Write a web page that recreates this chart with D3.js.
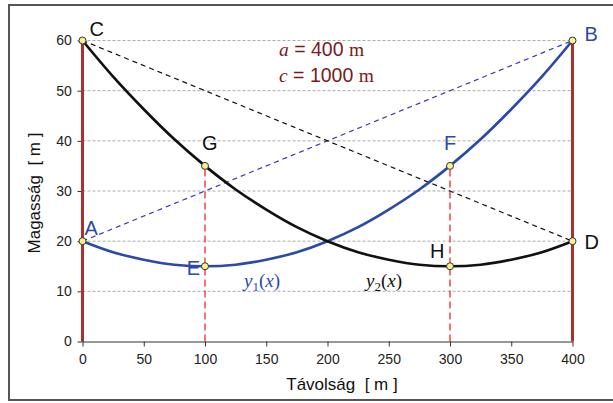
<!DOCTYPE html>
<html>
<head>
<meta charset="utf-8">
<script src="https://cdn.jsdelivr.net/npm/d3@7"></script>
<style>
  body { margin: 0; background: #fff; }
</style>
</head>
<body>
<svg id="chart" width="613" height="403" font-family="Liberation Sans, Arial, sans-serif"></svg>
<script>
// values
var xs = [0, 25, 50, 75, 100, 125, 150, 175, 200, 225, 250, 275, 300, 325, 350, 375, 400];
var y1Values = [20, 17.8, 16.3, 15.3, 15, 15.3, 16.3, 17.8, 20, 22.8, 26.3, 30.3, 35, 40.3, 46.3, 52.8, 60];
var y2Values = [60, 52.8, 46.3, 40.3, 35, 30.3, 26.3, 22.8, 20, 17.8, 16.3, 15.3, 15, 15.3, 16.3, 17.8, 20];
var xTicks = [0, 50, 100, 150, 200, 250, 300, 350, 400];
var yTicks = [0, 10, 20, 30, 40, 50, 60];
var pointNames = ["A", "B", "C", "D", "E", "F", "G", "H"];
var pointX = [0, 400, 0, 400, 100, 300, 100, 300];
var pointY = [20, 60, 60, 20, 15, 35, 35, 15];

var svg = d3.select("#chart");
var serif = "Liberation Serif, Times New Roman, serif";

// outer frame
svg.append("rect")
    .attr("x", 9).attr("y", 5)
    .attr("width", 620).attr("height", 395)
    .attr("fill", "none")
    .attr("stroke", "#555")
    .attr("stroke-width", 2);

var x = d3.scaleLinear().domain([0, 400]).range([82.5, 572.5]);
var y = d3.scaleLinear().domain([0, 60]).range([341.5, 40.5]);

// gridlines
svg.append("g").selectAll("line")
    .data(yTicks.filter(function(d) { return d > 0; }))
    .enter().append("line")
    .attr("x1", x(0)).attr("x2", x(400))
    .attr("y1", function(d) { return y(d); })
    .attr("y2", function(d) { return y(d); })
    .attr("stroke", "#aaa")
    .attr("stroke-width", 1)
    .attr("stroke-dasharray", "3,2");

// axes
var xAxis = svg.append("g")
    .attr("transform", "translate(0," + y(0) + ")")
    .call(d3.axisBottom(x).tickValues(xTicks).tickSize(5).tickSizeOuter(0));
var yAxis = svg.append("g")
    .attr("transform", "translate(" + x(0) + ",0)")
    .call(d3.axisLeft(y).tickValues(yTicks).tickSize(5).tickSizeOuter(0));
[xAxis, yAxis].forEach(function(a) {
  a.attr("font-family", null).attr("font-size", null);
  a.select(".domain").attr("stroke", "#333").attr("stroke-width", 1.2);
  a.selectAll(".tick line").attr("stroke", "#333");
  a.selectAll(".tick text")
      .attr("font-size", 14)
      .attr("fill", "#222");
});
xAxis.selectAll(".tick text").attr("dy", "1.05em");
yAxis.selectAll(".tick text").attr("dx", "-0.2em");

// axis titles
svg.append("text")
    .attr("x", 342).attr("y", 390)
    .attr("text-anchor", "middle")
    .attr("font-size", 17)
    .attr("fill", "#111")
    .attr("xml:space", "preserve")
    .text("Távolság  [ m ]");
svg.append("text")
    .attr("transform", "translate(40,193) rotate(-90)")
    .attr("text-anchor", "middle")
    .attr("font-size", 17)
    .attr("fill", "#111")
    .attr("xml:space", "preserve")
    .text("Magasság  [ m ]");

// dashed chords
function chord(i, j, color) {
  svg.append("line")
      .attr("x1", x(pointX[i])).attr("y1", y(pointY[i]))
      .attr("x2", x(pointX[j])).attr("y2", y(pointY[j]))
      .attr("stroke", color)
      .attr("stroke-width", 1.2)
      .attr("stroke-dasharray", "5,4");
}
chord(0, 1, "#3a3ab0");
chord(2, 3, "#111");

// red dashed verticals through E-G and H-F
[6, 5].forEach(function(i) {
  svg.append("line")
      .attr("x1", x(pointX[i])).attr("x2", x(pointX[i]))
      .attr("y1", y(0)).attr("y2", y(pointY[i]))
      .attr("stroke", "#ee2a2a")
      .attr("stroke-width", 1.3)
      .attr("stroke-dasharray", "7,4");
});

// poles
[0, 400].forEach(function(v) {
  svg.append("line")
      .attr("x1", x(v)).attr("x2", x(v))
      .attr("y1", y(0)).attr("y2", y(60))
      .attr("stroke", "#a83232")
      .attr("stroke-width", 3);
});

// curves
var line = d3.line()
    .x(function(d) { return x(d[0]); })
    .y(function(d) { return y(d[1]); })
    .curve(d3.curveMonotoneX);
svg.append("path")
    .datum(d3.zip(xs, y1Values))
    .attr("d", line)
    .attr("fill", "none")
    .attr("stroke", "#2b4aa8")
    .attr("stroke-width", 2.7);
svg.append("path")
    .datum(d3.zip(xs, y2Values))
    .attr("d", line)
    .attr("fill", "none")
    .attr("stroke", "#111")
    .attr("stroke-width", 2.7);

// points
svg.append("g").selectAll("circle")
    .data(d3.range(pointNames.length))
    .enter().append("circle")
    .attr("cx", function(i) { return x(pointX[i]); })
    .attr("cy", function(i) { return y(pointY[i]); })
    .attr("r", 3.5)
    .attr("fill", "#faf28a")
    .attr("stroke", "#333")
    .attr("stroke-width", 1);

// point labels
var labelDx = [2, 12, 7, 12, -5, -6, -3, -20];
var labelDy = [-6, 0, -5, 8, 9, -16, -16, -8];
var labelColor = ["#2b4aa8", "#2b4aa8", "#111", "#111", "#2b4aa8", "#2b4aa8", "#111", "#111"];
var labelAnchor = ["start", "start", "start", "start", "end", "start", "start", "start"];
svg.append("g").selectAll("text")
    .data(d3.range(pointNames.length))
    .enter().append("text")
    .attr("x", function(i) { return x(pointX[i]) + labelDx[i]; })
    .attr("y", function(i) { return y(pointY[i]) + labelDy[i]; })
    .attr("text-anchor", function(i) { return labelAnchor[i]; })
    .attr("font-size", 20)
    .attr("fill", function(i) { return labelColor[i]; })
    .text(function(i) { return pointNames[i]; });

// curve names
function curveName(px, py, sub, color) {
  var t = svg.append("text")
      .attr("x", px).attr("y", py)
      .attr("font-family", serif)
      .attr("font-size", 19)
      .attr("fill", color);
  t.append("tspan").attr("font-style", "italic").text("y");
  t.append("tspan").attr("font-size", 13).attr("dy", 4).text(sub);
  t.append("tspan").attr("dy", -4).text("(");
  t.append("tspan").attr("font-style", "italic").text("x");
  t.append("tspan").text(")");
}
curveName(244, 287, "1", "#2b4aa8");
curveName(366, 287, "2", "#111");

// parameters
function param(py, name, value) {
  var t = svg.append("text")
      .attr("x", 279).attr("y", py)
      .attr("font-size", 19.5)
      .attr("fill", "#7a1a1e")
      .attr("xml:space", "preserve");
  t.append("tspan")
      .attr("font-family", serif)
      .attr("font-style", "italic")
      .text(name);
  t.append("tspan").text(" = " + value + " ");
  t.append("tspan")
      .attr("font-family", serif)
      .text("m");
}
param(56, "a", "400");
param(82, "c", "1000");
</script>
</body>
</html>
